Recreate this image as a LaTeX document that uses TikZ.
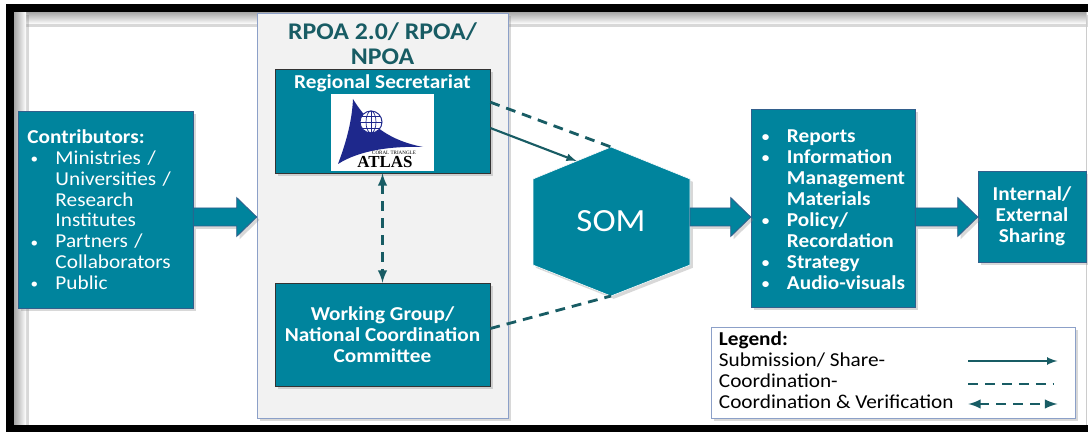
\documentclass[tikz,border=0pt]{standalone}
\usepackage{fontspec}
\setmainfont{Carlito}[FakeStretch=1.08]
\newfontfamily\logofont{Liberation Serif}
\usetikzlibrary{calc,positioning,shadows}
\definecolor{boxteal}{RGB}{0,132,157}
\definecolor{darkteal}{RGB}{24,92,100}
\definecolor{panelgray}{RGB}{242,242,242}
\definecolor{panelline}{RGB}{140,160,200}
\definecolor{logoblue}{RGB}{30,40,140}
\definecolor{arrowline}{RGB}{50,95,140}
\newcommand{\bul}{\raisebox{0.6pt}{\fontsize{10}{10}\selectfont\textbullet}}

\begin{document}
\begin{tikzpicture}[x=0.025cm,y=-0.025cm,
  shade/.style={drop shadow={opacity=0.3,shadow xshift=2pt,shadow yshift=-2pt}},
  box/.style={draw=arrowline,fill=boxteal,text=white,inner sep=0,align=center,
    font=\bfseries\fontsize{14}{14.9}\selectfont,shade},
  link/.style={darkteal,line width=1.5pt},
  dlink/.style={darkteal,line width=2pt,dash pattern=on 7pt off 5pt},
  barrow/.style={fill=boxteal,draw=arrowline,line width=0.6pt,shade,
    to path={let \p1=(\tikztostart),\p2=(\tikztotarget) in
      (\x1,\y1+6.4pt) -- (\x2-14.2pt,\y1+6.4pt) -- (\x2-14.2pt,\y1+13.8pt) -- (\x2,\y1)
      -- (\x2-14.2pt,\y1-13.8pt) -- (\x2-14.2pt,\y1-6.4pt) -- (\x1,\y1-6.4pt) -- cycle}}]
  \useasboundingbox (0,0) rectangle (1088,432);
  \fill[white] (0,0) rectangle (1088,432);
  % frame
  \shade[top color=black!35,bottom color=white] (14,12) rectangle (1086,24);
  \shade[left color=black!35,right color=white] (14,12) rectangle (26,425);
  \fill[black] (6,4) rectangle (1088,12);
  \fill[black] (6,4) rectangle (14,432);
  \fill[black] (6,425) rectangle (1088,432);
  \draw[gray!40] (1086,12) -- (1086,425);

  \node[box,font=\fontsize{14}{14.9}\selectfont,text width=3.9cm,align=left,
    minimum width=4.375cm,minimum height=4.925cm] (contrib) at (105.5,209.5)
    {\raisebox{-0.07cm}[\height][\depth]{\begin{tabular}{@{\hspace{0.08cm}}p{0.62cm}@{}l@{}}
     \multicolumn{2}{@{}l}{\textbf{Contributors:}}\\
     \bul & Ministries /\\
       & Universities /\\
       & Research\\
       & Institutes\\
     \bul & Partners /\\
       & Collaborators\\
     \bul & Public
     \end{tabular}}};

  \node[draw=panelline,fill=panelgray,minimum width=6.275cm,minimum height=10.125cm,shade] (rpoa) at (382.5,215.5) {};
  \node[darkteal,align=center,font=\bfseries\fontsize{17}{17.7}\selectfont] (rpoatitle) at ($(rpoa.north)+(0,31)$) {RPOA 2.0/ RPOA/\\NPOA};

  \node[box,draw=black!80,minimum width=5.375cm,minimum height=2.6cm] (secr) at (382.5,121) {};
  \node[text=white,font=\bfseries\fontsize{14}{14.9}\selectfont] (secrtitle) at ($(secr.north)+(0,15)$) {Regional Secretariat};
  \node[fill=white,minimum width=2.575cm,minimum height=1.925cm,inner sep=0] (logo) at (382.5,132.5) {};
  % logo
  \fill[logoblue] (353,99) .. controls (370,127) and (392,141) .. (423,147)
    .. controls (392,146) and (360,150) .. (338,164)
    .. controls (347,140) and (352,120) .. (353,99) -- cycle;
  \fill[white] (371,122) circle[radius=11];
  \draw[logoblue,line width=0.7pt] (371,122) circle[radius=11];
  \draw[logoblue,line width=0.5pt] (371,122) ellipse[x radius=5,y radius=11];
  \draw[logoblue,line width=0.5pt] (371,111) -- (371,133) (360,122) -- (382,122)
    (362,116) -- (380,116) (362,128) -- (380,128);
  \node[font=\logofont\fontsize{3.6}{4}\selectfont,inner sep=0] (logosub) at (394,153) {CORAL TRIANGLE};
  \node[font=\logofont\bfseries\fontsize{12}{12}\selectfont,inner sep=0] (logoname) at (385,162) {ATLAS};

  \node[box,draw=black!80,minimum width=5.375cm,minimum height=2.575cm] (wg) at (382.5,334.5)
    {Working Group/\\National Coordination\\Committee};

  % SOM
  \coordinate (htop) at (611,147);
  \coordinate (hur) at (690,179);
  \coordinate (hlr) at (690,265);
  \coordinate (hbot) at (611,296);
  \coordinate (hll) at (533,265);
  \coordinate (hul) at (533,179);
  \filldraw[fill=boxteal,draw=white,shade] (htop) -- (hur) -- (hlr) -- (hbot) -- (hll) -- (hul) -- cycle;
  \node[text=white,font=\fontsize{23}{23}\selectfont] (som) at ($(htop)!0.5!(hbot)$) {SOM};

  \node[box,text width=3.65cm,align=left,minimum width=4.1cm,minimum height=4.95cm] (outputs) at (833,208)
    {\raisebox{-0.09cm}[\height][\depth]{\begin{tabular}{@{\hspace{0.05cm}}p{0.625cm}@{}l@{}}
     \bul & Reports\\
     \bul & Information\\
       & Management\\
       & Materials\\
     \bul & Policy/\\
       & Recordation\\
     \bul & Strategy\\
     \bul & Audio-visuals
     \end{tabular}}};

  \node[box,minimum width=2.7cm,minimum height=2.275cm] (share) at (1032,216.5) {Internal/\\External\\Sharing};

  % block arrows
  \coordinate (mid) at (0,217);
  \draw[barrow] (contrib.east |- mid) to (rpoa.west |- mid);
  \draw[barrow] (hur |- mid) to (outputs.west |- mid);
  \draw[barrow] (outputs.east |- mid) to (share.west |- mid);

  % connectors
  \draw[link,-latex] ($(secr.east)+(0,7)$) -- ($(hul)!0.56!(htop)$);
  \draw[dlink] ($(secr.north east)!0.32!(secr.south east)$) -- (htop);
  \draw[dlink] ($(wg.east)+(0,-6)$) -- (hbot);
  \draw[dlink,latex-latex] (secr.south) -- (wg.north);

  % legend
  \node[draw=panelline,fill=white,minimum width=9.1cm,minimum height=2.275cm,shade] (legend) at (893,372.5) {};
  \node[anchor=north west,align=left,inner sep=0,font=\fontsize{14}{14.9}\selectfont] (legtext)
    at ($(legend.north west)+(8,5)$) {\textbf{Legend:}\\Submission/ Share-\\Coordination-\\Coordination \& Verification};
  \coordinate (l1a) at ($(legend.east)+(-107,-11.5)$);
  \coordinate (l1b) at ($(legend.east)+(-18,-11.5)$);
  \coordinate (l2a) at ($(legend.east)+(-107,11.5)$);
  \coordinate (l2b) at ($(legend.east)+(-22,11.5)$);
  \coordinate (l3a) at ($(legend.east)+(-107,31.5)$);
  \coordinate (l3b) at ($(legend.east)+(-18,31.5)$);
  \draw[link,-latex] (l1a) -- (l1b);
  \draw[dlink] (l2a) -- (l2b);
  \draw[dlink,latex-latex] (l3a) -- (l3b);
\end{tikzpicture}
\end{document}
